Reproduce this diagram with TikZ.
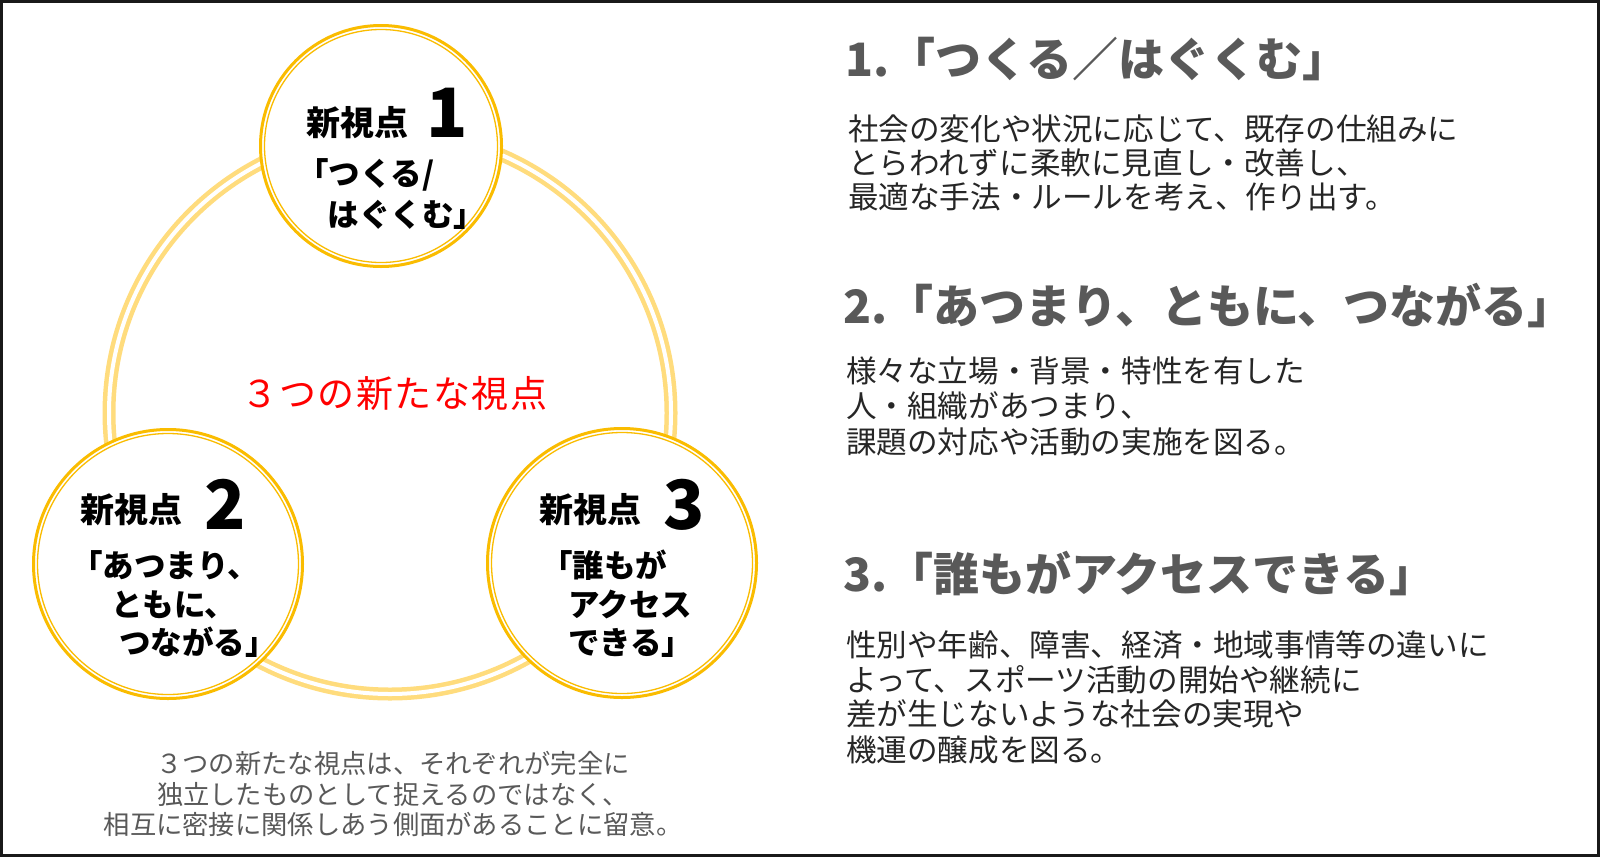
\documentclass[tikz,border=0pt]{standalone}
\usepackage{fontspec}
\setmainfont{Noto Sans CJK JP}
\newfontfamily\rfont{Noto Sans CJK JP}[LetterSpace=4]
\definecolor{ringy}{RGB}{255,220,125}
\definecolor{vgold}{RGB}{250,188,0}
\definecolor{hgray}{RGB}{89,89,89}
\definecolor{btxt}{RGB}{38,38,38}
\definecolor{redt}{RGB}{255,0,0}
\begin{document}
\begin{tikzpicture}[x=1pt,y=-1pt,
  every node/.style={inner sep=0pt, outer sep=0pt},
  bigring/.style={draw=ringy, line width=4.5pt, double=white, double distance=4pt},
  viewpt/.style={circle, draw=vgold, line width=3pt, fill=white, minimum size=#1},
  innerring/.style={draw=vgold, line width=1.3pt},
  vpkw/.style={anchor=base west, font=\bfseries\fontsize{34}{40}\selectfont, text=black},
  vpnum/.style={anchor=base, font=\bfseries\fontsize{68}{80}\selectfont, text=black},
  vpline/.style={anchor=base west, font=\bfseries\fontsize{31.5}{36}\selectfont, text=black},
  rhead/.style={anchor=base west, font=\bfseries\fontsize{46}{52}\selectfont, text=hgray},
  rbody/.style={anchor=base west, font=\fontsize{30.6}{36}\selectfont, text=btxt},
  bnote/.style={anchor=base, font=\fontsize{26.3}{30}\selectfont, text=hgray},
  redlabel/.style={anchor=base west, font=\rfont\fontsize{37}{42}\selectfont, text=redt}
]
\useasboundingbox (0,0) rectangle (1600,857);
\fill[white] (0,0) rectangle (1600,857);
\draw[line width=3pt, draw=black!90] (1.5,1.5) rectangle (1598.5,855.5);

% big ring
\coordinate (ringc) at (390,413);
\draw[bigring] (ringc) circle[radius=281pt];

% three viewpoint circles
\node[viewpt=241pt] (c1) at (381,146) {};
\node[viewpt=269pt] (c2) at (168,564) {};
\node[viewpt=269pt] (c3) at (622,563) {};
\draw[innerring] (c1.center) circle[radius=116.5pt];
\draw[innerring] (c2.center) circle[radius=130.5pt];
\draw[innerring] (c3.center) circle[radius=130.5pt];

% circle 1
\node[vpkw] (k1) at (306,135) {新視点};
\node[vpnum] (n1) at (447,137) {1};
\node[vpline] (l1a) at (297,185) {「つくる/};
\node[vpline] (l1b) at (296,226) {　はぐくむ」};

% circle 2
\node[vpkw] (k2) at (80,522) {新視点};
\node[vpnum] (n2) at (225,529) {2};
\node[vpline] (l2a) at (71,577) {「あつまり、};
\node[vpline] (l2b) at (111,616) {ともに、};
\node[vpline] (l2c) at (119,654) {つながる」};

% circle 3
\node[vpkw] (k3) at (539,522) {新視点};
\node[vpnum] (n3) at (684,529) {3};
\node[vpline] (l3a) at (541,577) {「誰もが};
\node[vpline] (l3b) at (568,616) {アクセス};
\node[vpline] (l3c) at (568,654) {できる」};

% centre label
\node[redlabel] (ctr) at (241,407) {３つの新たな視点};

% bottom note
\node[bnote] (nt1) at (393,773) {３つの新たな視点は、それぞれが完全に};
\node[bnote] (nt2) at (393,804) {独立したものとして捉えるのではなく、};
\node[bnote] (nt3) at (393,834) {相互に密接に関係しあう側面があることに留意。};

% right column
\node[rhead] (h1) at (845,76) {1.「つくる／はぐくむ」};
\node[rbody] (b1a) at (848,140) {社会の変化や状況に応じて、既存の仕組みに};
\node[rbody] (b1b) at (848,174) {とらわれずに柔軟に見直し・改善し、};
\node[rbody] (b1c) at (848,208) {最適な手法・ルールを考え、作り出す。};

\node[rhead] (h2) at (843,323) {2.「あつまり、ともに、つながる」};
\node[rbody] (b2a) at (846,382) {様々な立場・背景・特性を有した};
\node[rbody] (b2b) at (846,417) {人・組織があつまり、};
\node[rbody] (b2c) at (846,453) {課題の対応や活動の実施を図る。};

\node[rhead] (h3) at (843,591) {3.「誰もがアクセスできる」};
\node[rbody] (b3a) at (846,656) {性別や年齢、障害、経済・地域事情等の違いに};
\node[rbody] (b3b) at (846,691) {よって、スポーツ活動の開始や継続に};
\node[rbody] (b3c) at (846,725) {差が生じないような社会の実現や};
\node[rbody] (b3d) at (846,761) {機運の醸成を図る。};
\end{tikzpicture}
\end{document}
